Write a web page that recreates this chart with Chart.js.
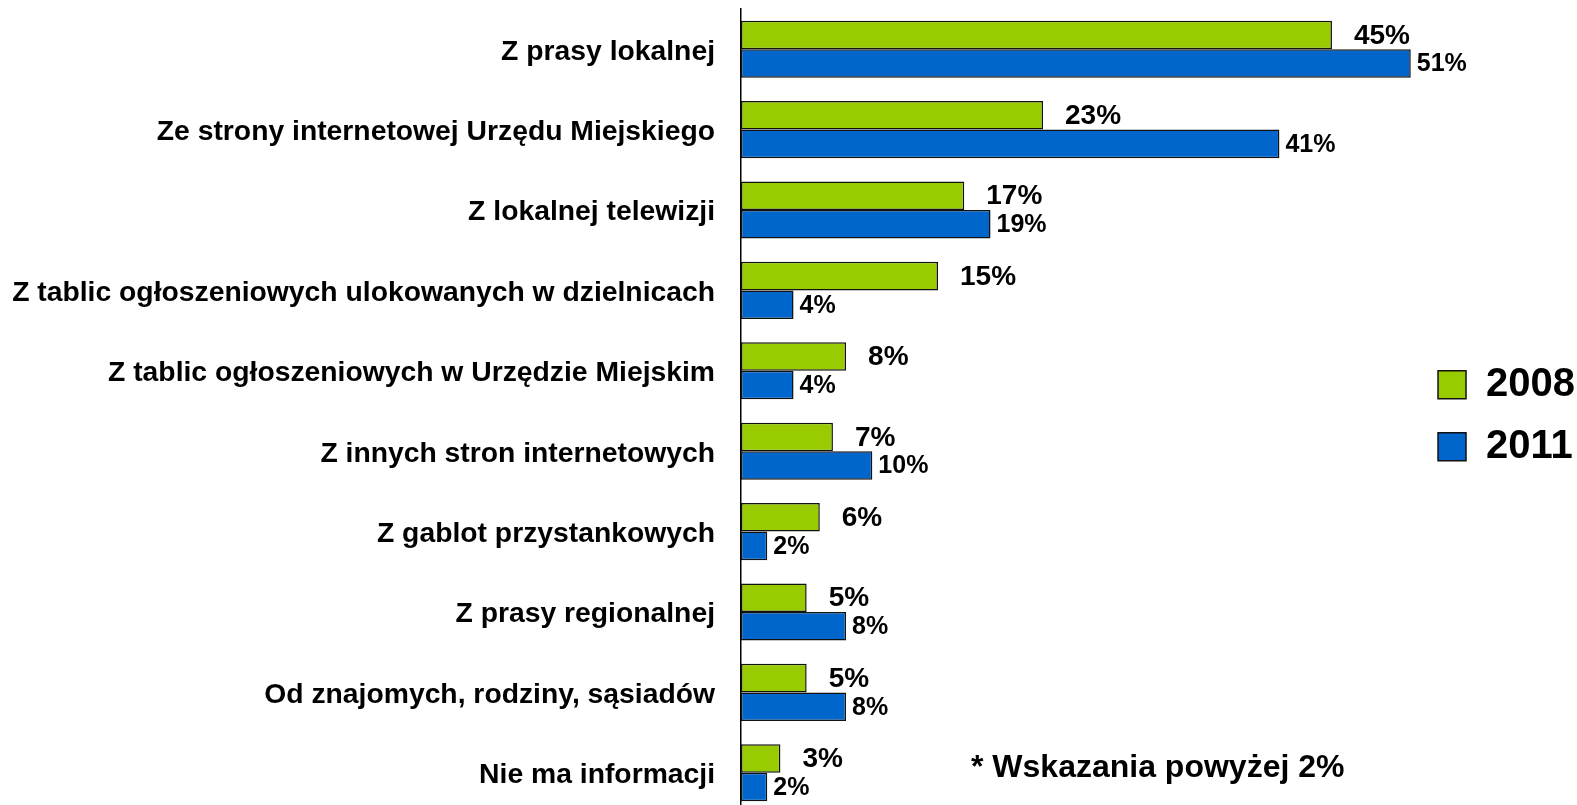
<!DOCTYPE html>
<html>
<head>
<meta charset="utf-8">
<script src="https://cdn.jsdelivr.net/npm/chart.js@4/dist/chart.umd.min.js"></script>
<style>
  html, body { margin: 0; padding: 0; background: #fff; overflow: hidden; }
  /* the last category runs a few px past the bottom edge of the picture */
  #wrap { width: 1577px; height: 813px; position: relative; }
</style>
</head>
<body>
<div id="wrap"><canvas id="myChart"></canvas></div>
<script>
const categories = [
    'Z prasy lokalnej',
    'Ze strony internetowej Urzędu Miejskiego',
    'Z lokalnej telewizji',
    'Z tablic ogłoszeniowych ulokowanych w dzielnicach',
    'Z tablic ogłoszeniowych w Urzędzie Miejskim',
    'Z innych stron internetowych',
    'Z gablot przystankowych',
    'Z prasy regionalnej',
    'Od znajomych, rodziny, sąsiadów',
    'Nie ma informacji'
];
const values2008 = [45, 23, 17, 15, 8, 7, 6, 5, 5, 3];
const values2011 = [51, 41, 19, 4, 4, 10, 2, 8, 8, 2];
const seriesNames = ['2008', '2011'];
const footnote = '* Wskazania powyżej 2%';

const fontFam = '"Liberation Sans", Arial, sans-serif';

// value labels next to the bars + footnote
const barLabels = {
    id: 'barLabels',
    afterDatasetsDraw(chart) {
        const ctx = chart.ctx;
        ctx.save();
        ctx.fillStyle = '#000';
        ctx.textBaseline = 'middle';
        ctx.textAlign = 'left';
        chart.data.datasets.forEach((ds, i) => {
            const meta = chart.getDatasetMeta(i);
            const off = i === 0 ? 22 : 6;
            ctx.font = 'bold ' + (i === 0 ? 28 : 25) + 'px ' + fontFam;
            meta.data.forEach((bar, j) => {
                ctx.fillText(ds.data[j] + '%', bar.x + off, bar.y + 1);
            });
        });
        ctx.font = 'bold 32px ' + fontFam;
        ctx.textBaseline = 'alphabetic';
        ctx.fillText(footnote, 971, 777);
        ctx.restore();
    }
};

const ctx = document.getElementById('myChart').getContext('2d');
const myChart = new Chart(ctx, {
    type: 'bar',
    data: {
        labels: categories,
        datasets: [{
            label: seriesNames[0],
            data: values2008,
            backgroundColor: '#99cc00',
            borderColor: '#111',
            borderWidth: 1.5,
            borderSkipped: false,
            categoryPercentage: 0.71,
            barPercentage: 1
        },
        {
            label: seriesNames[1],
            data: values2011,
            backgroundColor: '#0066cc',
            borderColor: '#111',
            borderWidth: 1.5,
            borderSkipped: false,
            categoryPercentage: 0.71,
            barPercentage: 1
        }]
    },
    options: {
        indexAxis: 'y',
        responsive: true,
        maintainAspectRatio: false,
        animation: false,
        layout: { padding: { top: 9, bottom: 0, left: 8, right: -8 } },
        scales: {
            x: {
                display: false,
                min: 0,
                max: 51.4
            },
            y: {
                grid: { display: false },
                border: { color: '#000', width: 1.5 },
                ticks: {
                    color: '#000',
                    padding: 18,
                    labelOffset: 2.5,
                    font: { family: fontFam, size: 28.3, weight: 'bold' }
                },
                afterFit(scale) {
                    scale.width = 733;
                    scale.paddingTop = 0;
                    scale.paddingBottom = 0;
                }
            }
        },
        plugins: {
            tooltip: { enabled: false },
            legend: {
                position: 'right',
                title: { display: true, text: '', font: { size: 8 }, padding: 0 },
                labels: {
                    color: '#000',
                    boxWidth: 28,
                    boxHeight: 28,
                    padding: 22,
                    font: { family: fontFam, size: 40, weight: 'bold' }
                }
            }
        }
    },
    plugins: [barLabels]
});
</script>
</body>
</html>
